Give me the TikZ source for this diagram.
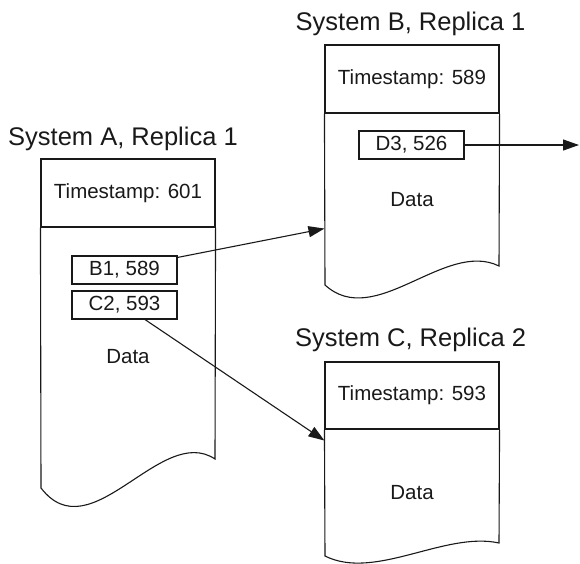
\documentclass[tikz,border=0pt]{standalone}
\usepackage{fontspec}
\setmainfont{Liberation Sans}
\usetikzlibrary{arrows.meta}

\tikzset{
  line/.style={line width=1.1pt, draw=black!90},
  title/.style={anchor=base, font=\fontsize{25.5}{30}\selectfont, text=black!90, inner sep=0pt},
  stamp/.style={line, draw, minimum width=174pt, minimum height=68pt, inner sep=0pt,
                font=\fontsize{20.5}{24}\selectfont, text=black!90},
  entry/.style={line, draw, minimum width=105pt, minimum height=28pt, inner sep=0pt,
                font=\fontsize{20.5}{24}\selectfont, text=black!90},
  label/.style={font=\fontsize{20.5}{24}\selectfont, text=black!90, inner sep=0pt},
  arr/.style={line, -{Triangle[length=16pt,width=11pt]}}
}

\begin{document}
\begin{tikzpicture}[x=1pt,y=-1pt]
  \useasboundingbox (0,0) rectangle (580,563);

  % ---- System A ----
  \node[title] (titleA) at (123,145) {System A, Replica 1};
  \node[stamp] (tsA) at (128,193) {Timestamp: 601};
  \draw[line] (tsA.south west) -- (41,488)
    .. controls (91,553) and (161,423) .. (215,459) -- (tsA.south east);
  \node[entry] (b1) at (124.5,270) {B1, 589};
  \node[entry] (c2) at (124.5,305) {C2, 593};
  \node[label] (dataA) at (128,357) {Data};

  % ---- System B ----
  \node[title] (titleB) at (410.5,30) {System B, Replica 1};
  \node[stamp] (tsB) at (412,79) {Timestamp: 589};
  \draw[line] (tsB.south west) -- (325,285)
    .. controls (375,330.5) and (445,239.5) .. (499,266) -- (tsB.south east);
  \node[entry] (d3) at (411.5,145) {D3, 526};
  \node[label] (dataB) at (412,200) {Data};

  % ---- System C ----
  \node[title] (titleC) at (410.5,346) {System C, Replica 2};
  \node[stamp, minimum height=67pt] (tsC) at (412,395.5) {Timestamp: 593};
  \draw[line] (tsC.south west) -- (325,556)
    .. controls (375,581) and (445,531) .. (499,543) -- (tsC.south east);
  \node[label] (dataC) at (412,493) {Data};

  % ---- references between replicas ----
  \coordinate (outD) at (579,145);
  \draw[arr] ([yshift=-2pt]b1.north east) -- ([yshift=-115pt]tsB.south west);
  \draw[arr] ([xshift=20.5pt]c2.south) -- ([yshift=-11pt]tsC.south west);
  \draw[arr] (d3.east) -- (outD);
\end{tikzpicture}
\end{document}
